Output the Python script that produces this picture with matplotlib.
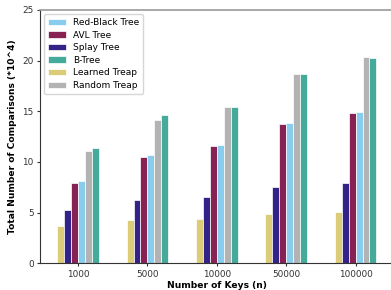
import numpy as np
import matplotlib
matplotlib.use("Agg")
import matplotlib.pyplot as plt

# data (x10^4 comparisons)
key_sizes = ["1000", "5000", "10000", "50000", "100000"]
learned_treap = [3.65, 4.28, 4.41, 4.91, 5.10]
splay_tree = [5.30, 6.23, 6.59, 7.51, 7.90]
avl_tree = [7.97, 10.47, 11.53, 13.70, 14.82]
red_black_tree = [8.13, 10.67, 11.63, 13.86, 14.95]
random_treap = [11.07, 14.10, 15.45, 18.64, 20.36]
b_tree = [11.40, 14.62, 15.45, 18.64, 20.23]

series = [
    ("Learned Treap", learned_treap, "#DDCC77"),
    ("Splay Tree", splay_tree, "#332288"),
    ("AVL Tree", avl_tree, "#882255"),
    ("Red-Black Tree", red_black_tree, "#88CCEE"),
    ("Random Treap", random_treap, "#B3B3B3"),
    ("B-Tree", b_tree, "#44AA99"),
]
legend_order = ["Red-Black Tree", "AVL Tree", "Splay Tree", "B-Tree",
                "Learned Treap", "Random Treap"]

fig = plt.figure(figsize=(3.91, 2.90), dpi=100)
ax = fig.add_axes([0.102, 0.092, 0.905, 0.874])

x = np.arange(len(key_sizes))
width = 0.1
handles = {}
for i, (name, vals, col) in enumerate(series):
    off = (i - 2.5) * width
    b = ax.bar(x + off, vals, width, color=col, edgecolor="white",
               linewidth=0.5, label=name)
    handles[name] = b

ax.set_xticks(x)
ax.set_xticklabels(key_sizes, fontsize=6.4)
ax.set_xlim(-0.55, 4.55)
ax.set_ylim(0, 25)
ax.set_yticks([0, 5, 10, 15, 20, 25])
ax.tick_params(axis="y", labelsize=6.4, length=2.5, pad=2, colors="#333333")
ax.tick_params(axis="x", length=2.5, pad=2, colors="#333333")
ax.set_xlabel("Number of Keys (n)", fontsize=6.6, fontweight="bold", labelpad=2)
ax.set_ylabel("Total Number of Comparisons (*10^4)", fontsize=6.6,
              fontweight="bold", labelpad=4)

ax.spines["top"].set_color("#999999")
ax.spines["top"].set_linewidth(1.2)
ax.spines["right"].set_color("#999999")
ax.spines["left"].set_color("#333333")
ax.spines["bottom"].set_color("#333333")

ax.legend([handles[n] for n in legend_order], legend_order, loc="upper left",
          fontsize=6.5, frameon=True, handlelength=2.0, borderpad=0.4,
          labelspacing=0.4)

fig.savefig("out.png", dpi=100)
